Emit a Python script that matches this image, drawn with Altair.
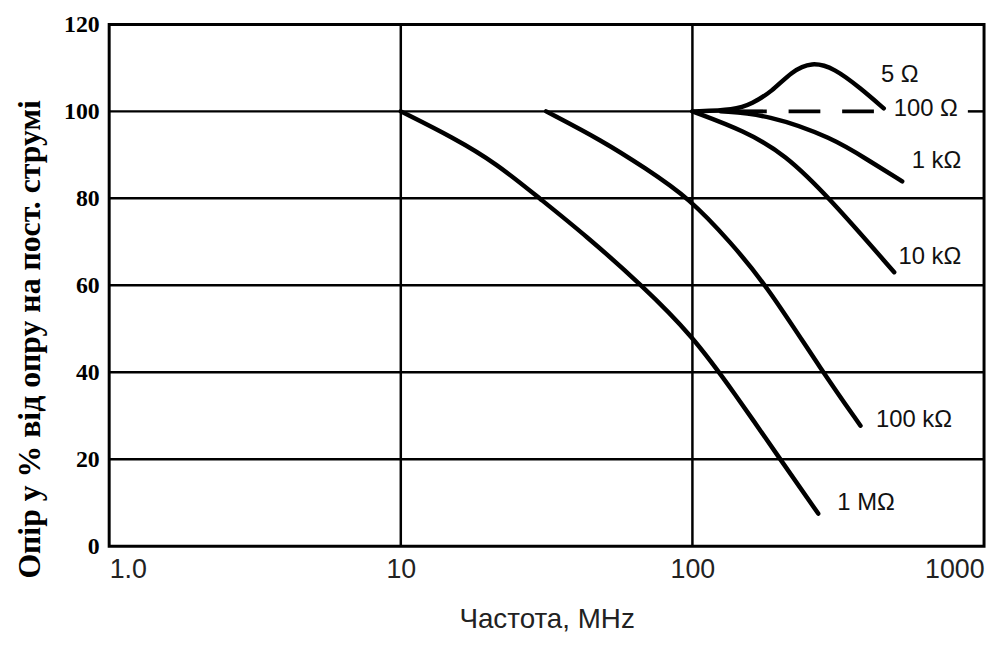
import altair as alt
import pandas as pd

# ---- data ----
freq_1M = [10, 15.2, 21.3, 29.9, 43.0, 67.1, 100, 138.7, 200, 270]
val_1M = [100, 93.9, 88.0, 80, 71.5, 60, 48.4, 35.4, 20, 7.5]
freq_100k = [31.5, 49.2, 68.7, 97.7, 135.5, 179.6, 280, 377]
val_100k = [100, 93.2, 87.0, 80, 69.8, 60, 40, 27.7]
freq_10k = [100, 151, 207, 296, 492]
val_10k = [100, 95.5, 90.2, 80, 63]
freq_1k = [125, 181, 303, 404, 524]
val_1k = [100, 99.3, 93.9, 88.6, 83.9]
freq_5 = [100, 140, 160, 187, 219, 256, 306, 379, 453]
val_5 = [100, 100.3, 101.8, 104.5, 109.2, 111.4, 110.0, 105.2, 100.7]
freq_100 = [140, 453]
val_100 = [100, 100]

label_text = ["5 Ω", "100 Ω", "1 kΩ", "10 kΩ", "100 kΩ", "1 MΩ"]
label_f = [443, 490, 565, 509, 426, 314]
label_v = [108.4, 100.5, 88.6, 66.6, 29.1, 9.8]

x_ticks = [1, 10, 100, 1000]
x_tick_labels = ["1.0", "10", "100", "1000"]
y_ticks = [0, 20, 40, 60, 80, 100, 120]

h_grid_v = [20, 40, 60, 80, 100, 100]
h_grid_f1 = [1, 1, 1, 1, 1, 880]
h_grid_f2 = [1000, 1000, 1000, 1000, 140, 1000]
v_grid_f = [10, 100]

# ---- tables ----
falling = pd.concat([
    pd.DataFrame({"f": freq_1M, "v": val_1M, "s": "1M"}),
    pd.DataFrame({"f": freq_100k, "v": val_100k, "s": "100k"}),
    pd.DataFrame({"f": freq_10k, "v": val_10k, "s": "10k"}),
    pd.DataFrame({"f": freq_1k, "v": val_1k, "s": "1k"}),
])
bump = pd.DataFrame({"f": freq_5, "v": val_5})
dashed = pd.DataFrame({"f": freq_100, "v": val_100})
labels = pd.DataFrame({"f": label_f, "v": label_v, "t": label_text})
hgrid = pd.DataFrame({"f": h_grid_f1, "f2": h_grid_f2, "v": h_grid_v})
vgrid = pd.DataFrame({"f": v_grid_f})

expr = "''"
for val, lab in zip(reversed(x_ticks), reversed(x_tick_labels)):
    expr = f"datum.value == {val} ? '{lab}' : ({expr})"

xscale = alt.Scale(type="log", domain=[1, 1000], nice=False)
yscale = alt.Scale(domain=[0, 120], nice=False, zero=False)

x_axis = alt.Axis(values=x_ticks, labelExpr=expr, grid=False, domain=False, ticks=False,
                  labelFont="Liberation Sans", labelFontSize=27, labelColor="#222",
                  labelPadding=11, labelFlush=True,
                  title="Частота, MHz", titleFont="Liberation Sans", titleFontSize=28,
                  titleFontWeight="normal", titleColor="#222", titleY=82,
                  titleBaseline="alphabetic")
y_axis = alt.Axis(values=y_ticks, grid=False, domain=False, ticks=False,
                  labelFont="Liberation Serif", labelFontWeight="bold", labelFontSize=24,
                  labelPadding=10, labelColor="black",
                  title="Опір у % від опру на пост. струмі", titleFont="Liberation Serif",
                  titleFontWeight="bold", titleFontSize=32, titleColor="black",
                  titleX=-80, titleY=317, titleBaseline="middle", titleAngle=270,
                  titleAlign="center")

X = lambda: alt.X("f:Q", scale=xscale, axis=x_axis)
Y = lambda: alt.Y("v:Q", scale=yscale, axis=y_axis)

h_rules = alt.Chart(hgrid).mark_rule(color="black", strokeWidth=2.5).encode(
    x=X(), x2="f2:Q", y=Y())
v_rules = alt.Chart(vgrid).mark_rule(color="black", strokeWidth=2.5).encode(x=X())
curves = alt.Chart(falling).mark_line(color="black", strokeWidth=4.5, interpolate="basis",
                                      strokeCap="round").encode(
    x=X(), y=Y(), detail="s:N")
bump_line = alt.Chart(bump).mark_line(color="black", strokeWidth=4.5, interpolate="basis",
                                      strokeCap="round").encode(x=X(), y=Y())
dash = alt.Chart(dashed).mark_line(color="black", strokeWidth=4, strokeDash=[32, 22]).encode(
    x=X(), y=Y())
texts = alt.Chart(labels).mark_text(align="left", baseline="middle", font="Liberation Sans",
                                    fontSize=24, color="#111").encode(
    x=X(), y=Y(), text="t:N")

chart = alt.layer(h_rules, v_rules, curves, bump_line, dash, texts).properties(
    width=882, height=526,
    autosize=alt.AutoSizeParams(type="none"),
    padding={"left": 102, "top": 14, "right": 5, "bottom": 86},
    background="white",
).configure_view(stroke="black", strokeWidth=3)

chart.save("out.html", embed_options={"renderer": "svg", "actions": False})
